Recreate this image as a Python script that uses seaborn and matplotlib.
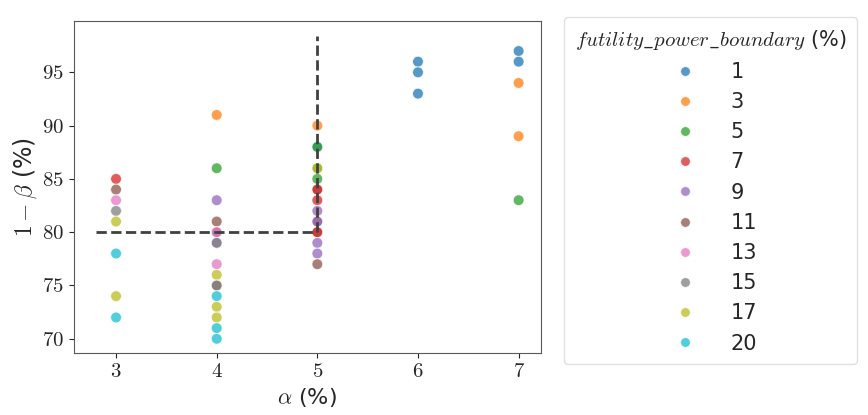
import numpy as np
import pandas as pd
import seaborn as sns
import matplotlib.pyplot as plt

# points: alpha (%), power 1-beta (%), futility power boundary (%)
alpha = [3, 3, 3, 3, 3, 3, 3, 3,
         4, 4, 4, 4, 4, 4, 4, 4, 4, 4, 4, 4, 4, 4, 4, 4, 4,
         5, 5, 5, 5, 5, 5, 5, 5, 5, 5, 5, 5, 5, 5, 5, 5, 5,
         6, 6, 6,
         7, 7, 7, 7, 7]
power = [85, 84, 83, 82, 81, 78, 74, 72,
         91, 86, 83, 81, 80, 80, 79, 79, 77, 76, 75, 75, 74, 73, 72, 71, 70,
         90, 88, 88, 86, 86, 85, 84, 84, 83, 82, 81, 81, 80, 80, 79, 78, 77,
         96, 95, 93,
         97, 96, 94, 89, 83]
boundary = [7, 11, 13, 15, 17, 20, 17, 20,
            3, 5, 9, 11, 11, 13, 9, 15, 13, 17, 11, 15, 20, 17, 17, 20, 20,
            3, 1, 5, 5, 17, 5, 11, 7, 7, 9, 11, 9, 11, 7, 9, 9, 11,
            1, 1, 1,
            1, 1, 3, 3, 5]
boundary_levels = [1, 3, 5, 7, 9, 11, 13, 15, 17, 20]

# target lines: power 80% up to alpha 5%
hline_x = [2.8, 5]
hline_y = [80, 80]
vline_x = [5, 5]
vline_y = [80, 98.4]

df = pd.DataFrame({"alpha": alpha, "power": power,
                   "boundary": [str(b) for b in boundary]})

sns.set_style("ticks")
plt.rcParams['mathtext.fontset'] = 'cm'
plt.rcParams['axes.formatter.use_mathtext'] = True

fig, ax = plt.subplots(figsize=(8.68, 4.15), dpi=100)
fig.subplots_adjust(left=0.085, right=0.623, top=0.949, bottom=0.149)

sns.scatterplot(data=df, x="alpha", y="power", hue="boundary",
                hue_order=[str(b) for b in boundary_levels], palette="tab10",
                alpha=0.75, s=60, ax=ax)

ax.plot(hline_x, hline_y, ls="--", lw=2, color="0.25", zorder=3)
ax.plot(vline_x, vline_y, ls="--", lw=2, color="0.25", zorder=3)

ax.set_xlim(2.58, 7.22)
ax.set_ylim(68.65, 99.8)
ax.set_xticks([3, 4, 5, 6, 7])
ax.set_yticks([70, 75, 80, 85, 90, 95])
for lab in ax.get_xticklabels() + ax.get_yticklabels():
    lab.set_fontfamily("cmr10")
    lab.set_fontsize(15)

ax.set_xlabel(r"$\alpha$ (%)", fontsize=16)
ax.set_ylabel(r"$1-\beta$ (%)", fontsize=17, labelpad=2)
for sp in ax.spines.values():
    sp.set_color("0.35")

leg = ax.legend(title=r"$futility\_power\_boundary$ (%)", loc="upper left",
                bbox_to_anchor=(1.05, 1.012), borderaxespad=0, fontsize=15,
                title_fontsize=15, labelspacing=0.49, markerscale=0.9,
                handletextpad=1.2, borderpad=0.5, frameon=True)
leg.get_frame().set_edgecolor("0.85")

plt.savefig("out.png", dpi=100)
